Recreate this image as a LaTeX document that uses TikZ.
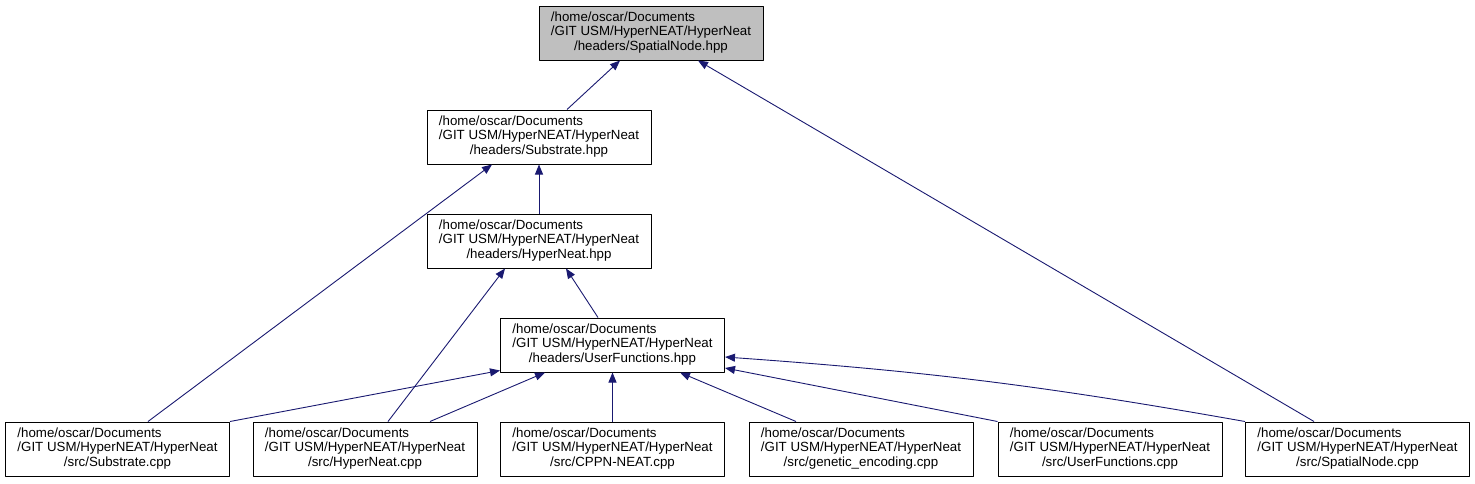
\documentclass[tikz,border=0pt]{standalone}
\usepackage{fontspec}
\newfontfamily\filefont{Liberation Sans}
\usetikzlibrary{arrows.meta}
\definecolor{edgeblue}{HTML}{191970}
\newcommand\fpath[1]{\begin{tabular}{@{}l@{}}/home/oscar/Documents\\/GIT USM/HyperNEAT/HyperNeat\\\multicolumn{1}{@{}c@{}}{/#1}\end{tabular}}
\tikzset{
  filebox/.style={draw=black, line width=1pt, minimum width=224pt, minimum height=54pt, inner sep=0pt,
    font=\filefont\fontsize{13.3}{14.3}\selectfont},
  dep/.style={draw=edgeblue, line width=0.9pt, -{Triangle[length=10pt,width=8pt]}},
}
\begin{document}
\begin{tikzpicture}[x=1pt, y=-1pt, line join=round]
	\useasboundingbox (0,0) rectangle (1475,483);
	% headers
	\node[filebox, fill=black!25] (snh) at (651,33) {\fpath{headers/SpatialNode.hpp}};
	\node[filebox] (subh) at (539,137) {\fpath{headers/Substrate.hpp}};
	\node[filebox] (hnh) at (539,241) {\fpath{headers/HyperNeat.hpp}};
	\node[filebox] (ufh) at (612.5,345) {\fpath{headers/UserFunctions.hpp}};
	% sources
	\node[filebox] (subc) at (117.5,449) {\fpath{src/Substrate.cpp}};
	\node[filebox] (hnc) at (365,449) {\fpath{src/HyperNeat.cpp}};
	\node[filebox] (cppnc) at (612.5,449) {\fpath{src/CPPN-NEAT.cpp}};
	\node[filebox] (gec) at (861,449) {\fpath{src/genetic\_encoding.cpp}};
	\node[filebox] (ufc) at (1110,449) {\fpath{src/UserFunctions.cpp}};
	\node[filebox] (snc) at (1357.5,449) {\fpath{src/SpatialNode.cpp}};
	% include edges
	\draw[dep] ([xshift=28pt]subh.north) -- ([xshift=-31pt]snh.south);
	\draw[dep] ([xshift=-43.5pt]snc.north) -- ([xshift=47pt]snh.south);
	\draw[dep] (hnh.north) -- (subh.south);
	\draw[dep] ([xshift=30.5pt]subc.north) -- ([xshift=-47pt]subh.south);
	\draw[dep] ([xshift=-14.5pt]ufh.north) -- ([xshift=27pt]hnh.south);
	\draw[dep] ([xshift=23pt]hnc.north) -- ([xshift=-34pt]hnh.south);
	\draw[dep] (subc.north east) -- ([yshift=2pt]ufh.south west);
	\draw[dep] ([xshift=65pt]hnc.north) -- ([xshift=-67.5pt]ufh.south);
	\draw[dep] (cppnc.north) -- (ufh.south);
	\draw[dep] ([xshift=-65pt]gec.north) -- ([xshift=67.5pt]ufh.south);
	\draw[dep] (ufc.north west) -- ([yshift=-23pt]ufh.east);
	\draw[dep] (snc.north west) to[bend right=3] ([yshift=-12pt]ufh.east);
\end{tikzpicture}
\end{document}
